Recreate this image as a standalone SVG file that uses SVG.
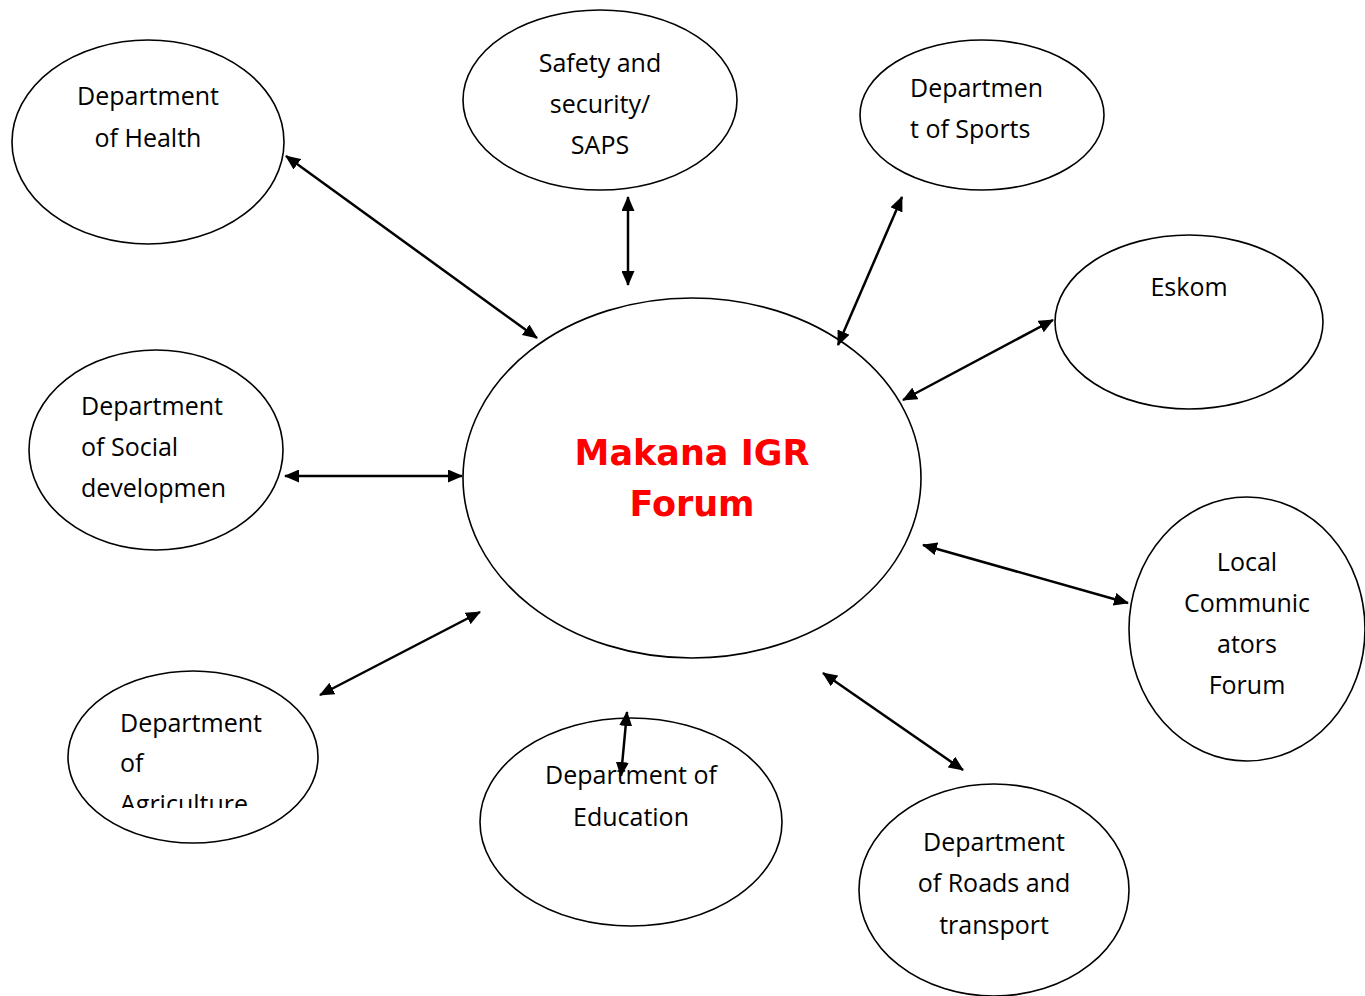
<svg xmlns="http://www.w3.org/2000/svg" width="1365" height="996" viewBox="0 0 1365 996">
<style>
.node{fill:#fff;stroke:#000;stroke-width:1.6}
.t{font-family:"Open Sans","Noto Sans",sans-serif;font-size:25px;fill:#000}
.c{text-anchor:middle}
.main{font-family:"DejaVu Sans","Verdana",sans-serif;font-weight:bold;font-size:35px;fill:#ff0000;text-anchor:middle}
.conn{stroke:#000;stroke-width:2.5;fill:none;marker-start:url(#ah);marker-end:url(#ah)}
</style>
<defs>
<marker id="ah" viewBox="0 0 15 13" refX="14" refY="6.5" markerWidth="15" markerHeight="13" markerUnits="userSpaceOnUse" orient="auto-start-reverse">
<path d="M0,0 L15,6.5 L0,13 Z" fill="#000"/>
</marker>
<clipPath id="agclip"><rect x="60" y="660" width="270" height="148"/></clipPath>
</defs>
<rect width="1365" height="996" fill="#fff"/>
<g id="center">
<ellipse class="node" cx="692" cy="478" rx="229" ry="180"/>
<text class="main" x="692" y="465">Makana IGR</text>
<text class="main" x="692" y="516">Forum</text>
</g>
<g id="health">
<ellipse class="node" cx="148" cy="142" rx="136" ry="102"/>
<text class="t c" x="148" y="105">Department</text>
<text class="t c" x="148" y="147">of Health</text>
</g>
<g id="safety">
<ellipse class="node" cx="600" cy="100" rx="137" ry="90"/>
<text class="t c" x="600" y="72">Safety and</text>
<text class="t c" x="600" y="113">security/</text>
<text class="t c" x="600" y="154">SAPS</text>
</g>
<g id="sports">
<ellipse class="node" cx="982" cy="115" rx="122" ry="75"/>
<text class="t" x="910" y="97">Departmen</text>
<text class="t" x="910" y="138">t of Sports</text>
</g>
<g id="eskom">
<ellipse class="node" cx="1189" cy="322" rx="134" ry="87"/>
<text class="t c" x="1189" y="296">Eskom</text>
</g>
<g id="social">
<ellipse class="node" cx="156" cy="450" rx="127" ry="100"/>
<text class="t" x="81" y="415">Department</text>
<text class="t" x="81" y="456">of Social</text>
<text class="t" x="81" y="497">developmen</text>
</g>
<g id="local">
<ellipse class="node" cx="1247" cy="629" rx="118" ry="132"/>
<text class="t c" x="1247" y="571">Local</text>
<text class="t c" x="1247" y="612">Communic</text>
<text class="t c" x="1247" y="653">ators</text>
<text class="t c" x="1247" y="694">Forum</text>
</g>
<g id="agriculture">
<ellipse class="node" cx="193" cy="757" rx="125" ry="86"/>
<g clip-path="url(#agclip)">
<text class="t" x="120" y="732">Department</text>
<text class="t" x="120" y="772">of</text>
<text class="t" x="120" y="813">Agriculture</text>
</g>
</g>
<g id="education">
<ellipse class="node" cx="631" cy="822" rx="151" ry="104"/>
<text class="t c" x="631" y="784">Department of</text>
<text class="t c" x="631" y="826">Education</text>
</g>
<g id="roads">
<ellipse class="node" cx="994" cy="890" rx="135" ry="106"/>
<text class="t c" x="994" y="851">Department</text>
<text class="t c" x="994" y="892">of Roads and</text>
<text class="t c" x="994" y="934">transport</text>
</g>
<g id="connectors">
<line class="conn" x1="286" y1="156" x2="537" y2="338"/>
<line class="conn" x1="628" y1="197" x2="628" y2="285"/>
<line class="conn" x1="902" y1="197" x2="838" y2="345"/>
<line class="conn" x1="1053" y1="320" x2="903" y2="400"/>
<line class="conn" x1="285" y1="476" x2="462" y2="476"/>
<line class="conn" x1="923" y1="545" x2="1128" y2="603"/>
<line class="conn" x1="320" y1="695" x2="480" y2="612"/>
<line class="conn" x1="627" y1="712" x2="621" y2="776"/>
<line class="conn" x1="823" y1="673" x2="963" y2="770"/>
</g>
</svg>
